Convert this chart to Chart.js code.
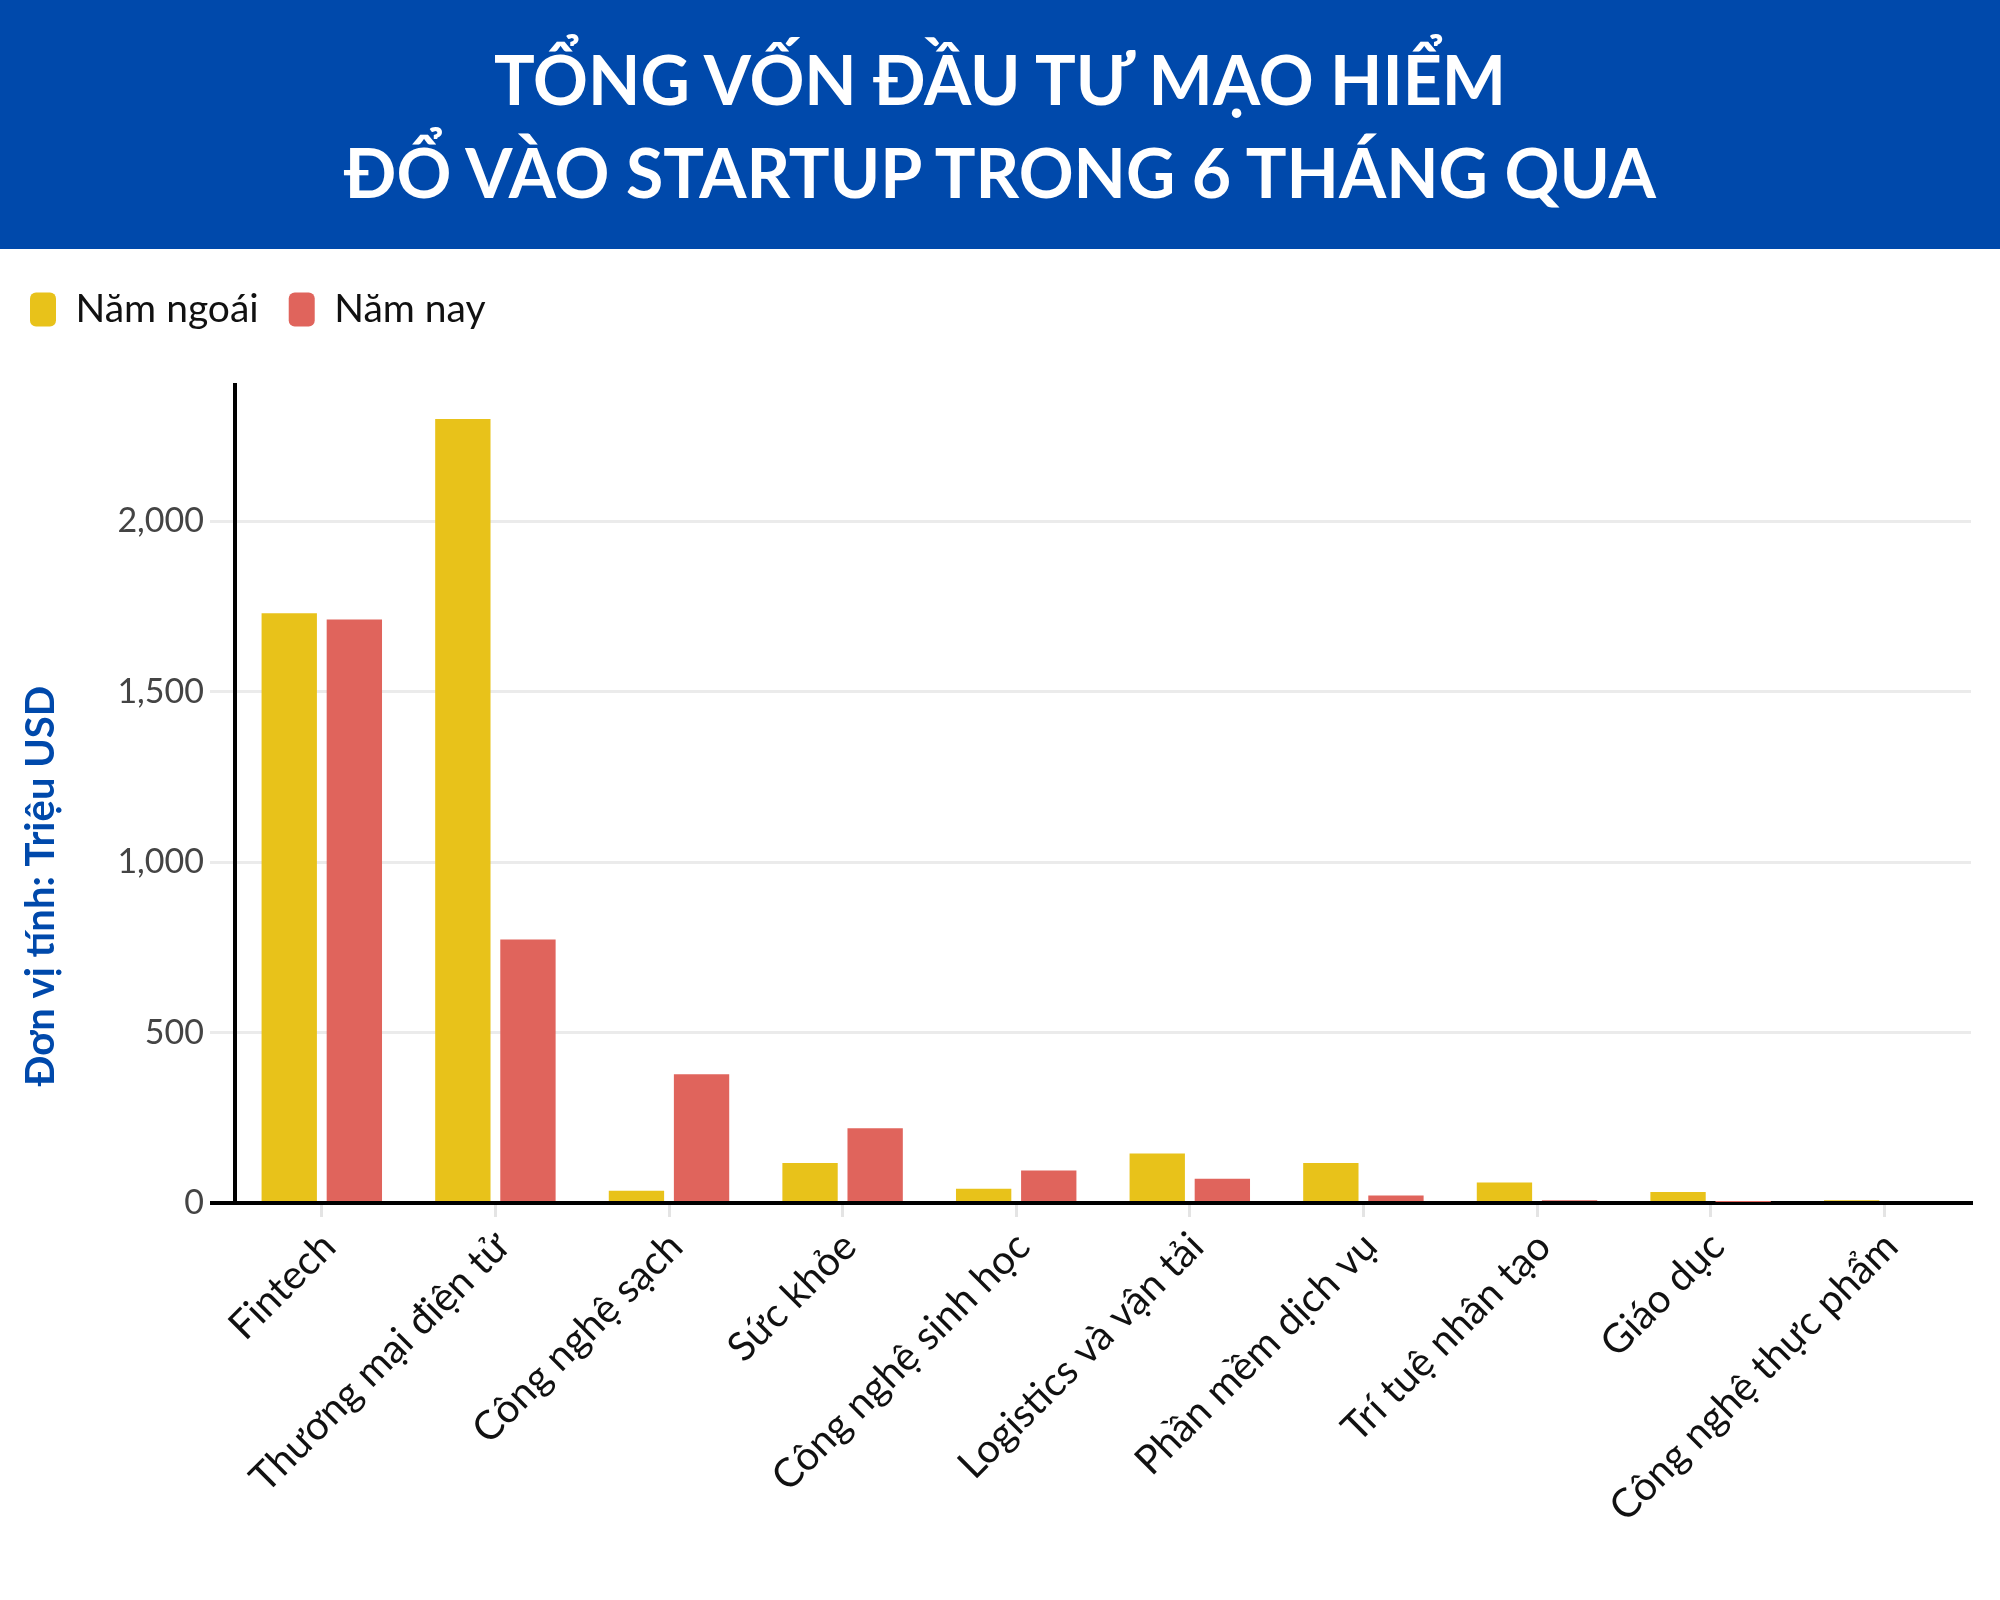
<!DOCTYPE html>
<html lang="vi">
<head>
<meta charset="utf-8">
<title>Tổng vốn đầu tư mạo hiểm đổ vào startup</title>
<script src="https://cdn.jsdelivr.net/npm/chart.js@4.4.1/dist/chart.umd.min.js"></script>
<style>
    html, body { margin: 0; padding: 0; background: #fff; }
    #tieude {
        width: 2000px; height: 249px; box-sizing: border-box;
        padding-top: 32px; background: #0049ab; color: #fff;
        font-family: Lato, sans-serif; font-weight: bold; font-size: 68px;
        line-height: 93px; text-align: center;
    }
    #vung { width: 2000px; height: 1351px; }
</style>
</head>
<body>
<div id="tieude">TỔNG VỐN ĐẦU TƯ MẠO HIỂM<br>ĐỔ VÀO STARTUP TRONG 6 THÁNG QUA</div>
<div id="vung"><canvas id="grafica" width="2000" height="1351"></canvas></div>
<script>
// Dữ liệu (triệu USD)
var nganh = ['Fintech', 'Thương mại điện tử', 'Công nghệ sạch', 'Sức khỏe', 'Công nghệ sinh học',
             'Logistics và vận tải', 'Phần mềm dịch vụ', 'Trí tuệ nhân tạo', 'Giáo dục', 'Công nghệ thực phẩm'];
var namNgoai = [1730, 2300, 36, 117, 42, 145, 117, 60, 32, 8];
var namNay = [1712, 773, 378, 219, 95, 71, 22, 8, 3, 0];
var mocTruc = [0, 500, 1000, 1500, 2000];
var donVi = 'Đơn vị tính: Triệu USD';

window.onload = function () {
    var phong = 'Lato';

    // chú thích cao hơn để chừa khoảng trống phía trên vùng vẽ
    var khoangChuThich = {
        id: 'khoangChuThich',
        beforeInit: function (chart) {
            var fitCu = chart.legend.fit;
            chart.legend.fit = function () {
                fitCu.call(this);
                this.height += 46;
            };
        }
    };

    // tiêu đề trục tung, đặt thấp hơn tâm trục như ảnh gốc
    var tieuDeTruc = {
        id: 'tieuDeTruc',
        afterDraw: function (chart) {
            var c = chart.ctx;
            c.save();
            c.translate(41, chart.chartArea.top + 501);
            c.rotate(-Math.PI / 2);
            c.font = 'bold 40px ' + phong;
            c.fillStyle = '#0049ab';
            c.textAlign = 'center';
            c.textBaseline = 'middle';
            c.fillText(donVi, 0, 0);
            c.restore();
        }
    };

    const ctx = document.getElementById('grafica');
    const grafica = new Chart(ctx, {
        type: 'bar',
        data: {
            labels: nganh,
            datasets: [{
                label: 'Năm ngoái',
                data: namNgoai,
                backgroundColor: '#e8c21a',
                borderWidth: 0
            }, {
                label: 'Năm nay',
                data: namNay,
                backgroundColor: '#e0645c',
                borderWidth: 0
            }]
        },
        plugins: [khoangChuThich, tieuDeTruc],
        options: {
            responsive: false,
            devicePixelRatio: 1,
            animation: false,
            categoryPercentage: 0.75,
            barPercentage: 0.85,
            layout: {
                padding: { top: 11, right: 29, left: 0, bottom: 0 }
            },
            plugins: {
                legend: {
                    position: 'top',
                    align: 'start',
                    labels: {
                        boxWidth: 26,
                        boxHeight: 34,
                        useBorderRadius: true,
                        borderRadius: 6,
                        padding: 30,
                        color: '#111',
                        font: { family: phong, size: 39 }
                    }
                },
                tooltip: { enabled: false }
            },
            scales: {
                x: {
                    z: 1,
                    afterFit: function (truc) { truc.height = 397; },
                    border: { color: '#000', width: 4 },
                    grid: {
                        drawOnChartArea: false,
                        offset: false,
                        tickLength: 14,
                        color: '#e4e4e4',
                        lineWidth: 3
                    },
                    ticks: {
                        autoSkip: false,
                        minRotation: 45,
                        maxRotation: 45,
                        padding: 6,
                        labelOffset: 7,
                        color: '#111',
                        font: { family: phong, size: 40 }
                    }
                },
                y: {
                    min: 0,
                    max: 2400,
                    afterBuildTicks: function (truc) {
                        truc.ticks = mocTruc.map(function (v) { return { value: v }; });
                    },
                    afterFit: function (truc) { truc.width = 235; },
                    border: { color: '#000', width: 4 },
                    grid: {
                        tickLength: 25,
                        color: function (c) { return c.tick && c.tick.value === 0 ? '#000' : '#ebebeb'; },
                        lineWidth: function (c) { return c.tick && c.tick.value === 0 ? 4 : 3; }
                    },
                    ticks: {
                        padding: 6,
                        color: '#444',
                        font: { family: phong, size: 34 },
                        callback: function (v) { return v.toLocaleString('en-US'); }
                    }
                }
            }
        }
    });
};
</script>
</body>
</html>
